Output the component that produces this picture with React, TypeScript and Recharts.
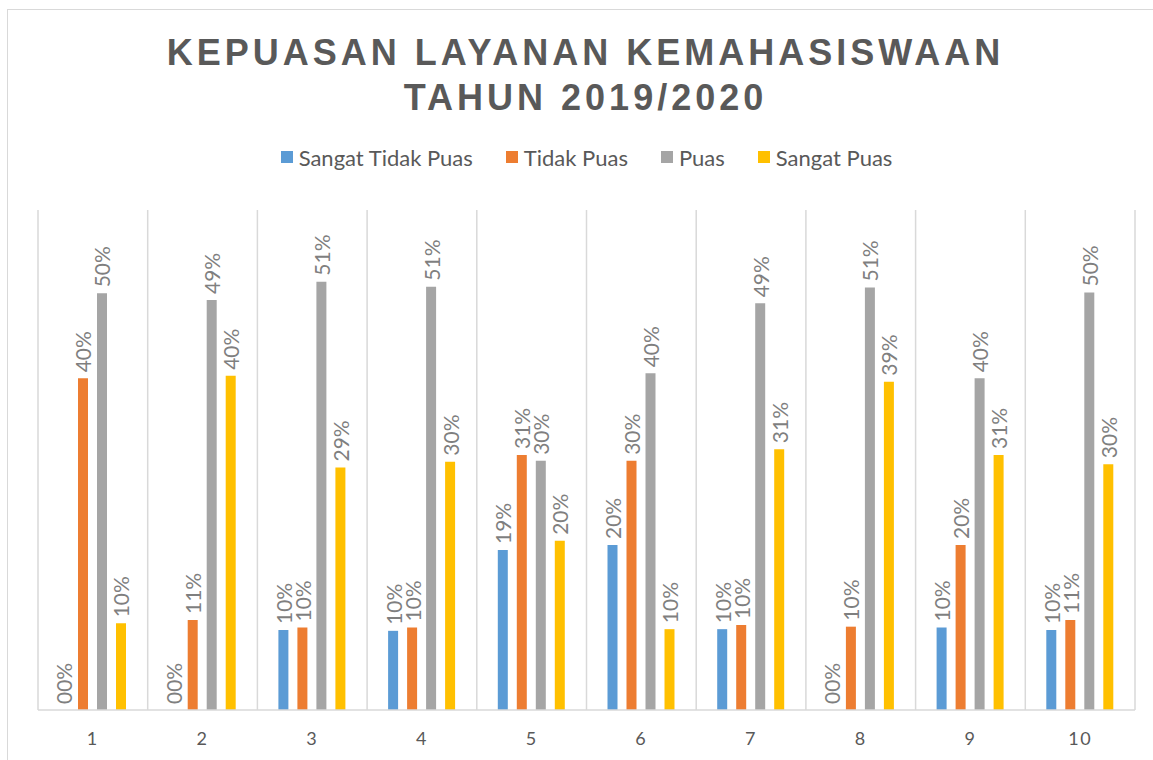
import { BarChart, Bar, XAxis, YAxis, CartesianGrid, Legend, LabelList } from 'recharts';

const categories = ['1', '2', '3', '4', '5', '6', '7', '8', '9', '10'];
const sangatTidakPuas = [0, 0, 9.6, 9.5, 19.2, 19.8, 9.7, 0, 9.9, 9.6];
const tidakPuas = [39.8, 10.8, 9.9, 9.9, 30.6, 29.9, 10.2, 10.0, 19.8, 10.8];
const puas = [50.0, 49.2, 51.4, 50.8, 29.9, 40.4, 48.8, 50.7, 39.8, 50.1];
const sangatPuas = [10.4, 40.1, 29.1, 29.8, 20.3, 9.7, 31.3, 39.4, 30.6, 29.5];

const series = [
  { key: 'stp', name: 'Sangat Tidak Puas', color: '#5B9BD5', values: sangatTidakPuas },
  { key: 'tp', name: 'Tidak Puas', color: '#ED7D31', values: tidakPuas },
  { key: 'p', name: 'Puas', color: '#A5A5A5', values: puas },
  { key: 'sp', name: 'Sangat Puas', color: '#FFC000', values: sangatPuas },
];

const data = categories.map((c, i) => {
  const row: Record<string, string | number> = { name: c };
  series.forEach((s) => { row[s.key] = s.values[i]; });
  return row;
});

const pct = (v: number) => String(Math.round(v)).padStart(2, '0') + '%';

const VLabel = (props: any) => {
  const { x, y, width, value } = props;
  const cx = Number(x) + Number(width) / 2;
  const cy = Number(y) - 6;
  return (
    <text
      x={cx}
      y={cy}
      transform={`rotate(-90 ${cx} ${cy})`}
      textAnchor="start"
      dominantBaseline="central"
      fill="#7F7F7F"
      fontSize={21}
      fontFamily="Lato, sans-serif"
    >
      {pct(Number(value))}
    </text>
  );
};

// legend keeps the series order (recharts 3 sorts its own legend by name)
const LegendRow = () => (
  <div style={{ height: 30, display: 'flex', justifyContent: 'center', alignItems: 'center', fontFamily: 'Lato, sans-serif', fontSize: 22, color: '#595959' }}>
    {series.map((s, i) => (
      <span key={s.key} style={{ display: 'inline-flex', alignItems: 'center', marginLeft: i === 0 ? 0 : 33 }}>
        <span style={{ width: 12, height: 12, background: s.color, display: 'inline-block', marginRight: 6 }} />
        {s.name}
      </span>
    ))}
  </div>
);

export default function App() {
  return (
    <div>
      <style>{'body{margin:0;overflow:hidden;}'}</style>
      <div
        style={{
          position: 'absolute', left: 7, top: 9, width: 1155, height: 760,
          borderLeft: '1px solid #D9D9D9', borderTop: '1px solid #D9D9D9', background: '#fff',
        }}
      >
        <div
          style={{
            marginTop: 20, textAlign: 'center', fontFamily: '"Liberation Sans", Arial, sans-serif',
            fontWeight: 700, fontSize: 36, lineHeight: '45px', letterSpacing: 4, color: '#595959',
          }}
        >
          KEPUASAN LAYANAN KEMAHASISWAAN<br />TAHUN 2019/2020
        </div>
        <BarChart
          width={1154}
          height={640}
          data={data}
          margin={{ top: 22, right: 27, left: 30, bottom: 20 }}
          barGap={9}
          barSize={10}
        >
          <CartesianGrid
            horizontal={false}
            stroke="#D9D9D9"
            strokeWidth={1.5}
            verticalCoordinatesGenerator={({ offset }: any) =>
              Array.from({ length: categories.length + 1 }, (_, i) => offset.left + (i * offset.width) / categories.length)
            }
          />
          <XAxis
            dataKey="name"
            axisLine={{ stroke: '#D9D9D9', strokeWidth: 1.5 }}
            tickLine={false}
            tickSize={0}
            tickMargin={22}
            height={30}
            tick={{ fill: '#595959', fontSize: 18, fontFamily: 'Lato, sans-serif', letterSpacing: 1.5 }}
          />
          <YAxis hide domain={[0, 60]} />
          <Legend verticalAlign="top" align="center" wrapperStyle={{ paddingBottom: 38 }} content={LegendRow} />
          {series.map((s) => (
            <Bar key={s.key} dataKey={s.key} name={s.name} fill={s.color} minPointSize={0.01} isAnimationActive={false}>
              <LabelList dataKey={s.key} content={VLabel} />
            </Bar>
          ))}
        </BarChart>
      </div>
    </div>
  );
}
